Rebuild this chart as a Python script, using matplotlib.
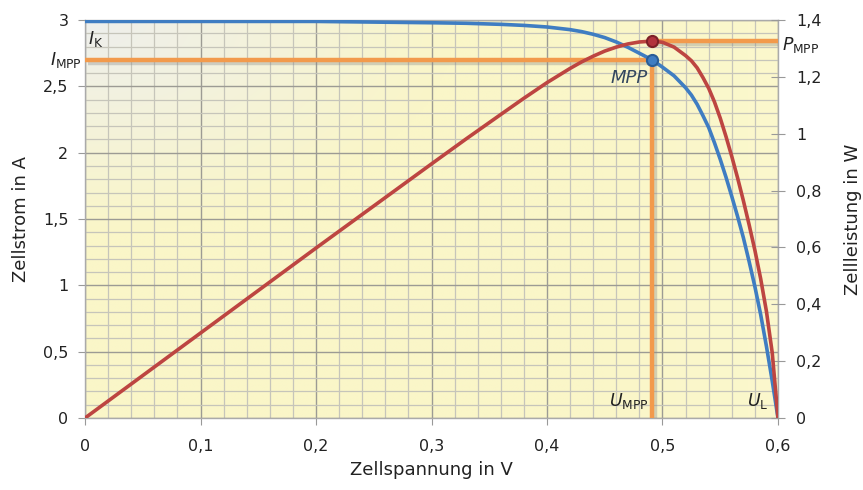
import numpy as np
import matplotlib
matplotlib.use("Agg")
import matplotlib.pyplot as plt
from matplotlib.ticker import MultipleLocator, FuncFormatter
import matplotlib.patheffects as pe

# Kennlinie einer Solarzelle: Spannung, Strom und Leistung
spannung = [0.0, 0.1, 0.2, 0.3, 0.33, 0.36, 0.38, 0.40, 0.42, 0.43, 0.44, 0.45,
            0.46, 0.47, 0.48, 0.491, 0.50, 0.51, 0.52, 0.525, 0.53, 0.535,
            0.54, 0.545, 0.55, 0.555, 0.56, 0.565, 0.57, 0.575, 0.58, 0.585,
            0.59, 0.595, 0.60]
strom = [2.99, 2.99, 2.99, 2.98, 2.976, 2.968, 2.96, 2.948, 2.928, 2.913,
         2.893, 2.868, 2.835, 2.795, 2.75, 2.70, 2.645, 2.58, 2.49, 2.435,
         2.365, 2.28, 2.19, 2.075, 1.95, 1.815, 1.67, 1.52, 1.36, 1.18, 0.99,
         0.78, 0.54, 0.28, 0.0]
leistung = [0.0, 0.299, 0.598, 0.894, 0.982, 1.068, 1.125, 1.18, 1.23, 1.253,
            1.273, 1.291, 1.305, 1.316, 1.323, 1.326, 1.322, 1.305, 1.275,
            1.257, 1.232, 1.198, 1.16, 1.112, 1.055, 0.99, 0.92, 0.845,
            0.765, 0.68, 0.59, 0.49, 0.375, 0.23, 0.0]

U_MPP = 0.491
I_MPP = 2.70
P_MPP = 1.326

x_ticks = [0, 0.1, 0.2, 0.3, 0.4, 0.5, 0.6]
i_ticks = [0, 0.5, 1, 1.5, 2, 2.5, 3]
p_ticks = [0, 0.2, 0.4, 0.6, 0.8, 1.0, 1.2, 1.4]

BLUE = "#3f7dc2"
RED = "#bd4541"
ORANGE = "#f29a4c"
GRID_MINOR = "#c6c5ba"
GRID_MAJOR = "#9c9b94"
TXT = "#222222"


def komma(v, pos=None):
    s = f"{v:g}"
    return s.replace(".", ",")


fig = plt.figure(figsize=(8.63, 4.90), dpi=100)
ax = fig.add_axes([0.0985, 0.1469, 0.8030, 0.8121])
ax.set_xlim(0, 0.6)
ax.set_ylim(0, 3)

# Hintergrundverlauf: oben links hellgrau, sonst blassgelb
nx, ny = 300, 200
gx, gy = np.meshgrid(np.linspace(0, 0.6, nx), np.linspace(3, 0, ny))
t = np.clip(np.sqrt((gx / 0.32) ** 2 + ((3 - gy) / 1.6) ** 2), 0, 1)
grey = np.array([238, 239, 237]) / 255
yellow = np.array([250, 246, 200]) / 255
bright = np.array([252, 249, 208]) / 255
tt = t[..., None]
img = grey * (1 - tt) + yellow * tt
r = np.clip((gx - 0.45) / 0.15, 0, 1)[..., None] * 0.6
img = img * (1 - r) + bright * r
ax.imshow(img, extent=[0, 0.6, 0, 3], aspect="auto", zorder=0,
          interpolation="bilinear")

# Raster
ax.xaxis.set_major_locator(MultipleLocator(0.1))
ax.xaxis.set_minor_locator(MultipleLocator(0.02))
ax.yaxis.set_major_locator(MultipleLocator(0.5))
ax.yaxis.set_minor_locator(MultipleLocator(0.1))
ax.grid(which="minor", color=GRID_MINOR, lw=0.9, zorder=1)
ax.grid(which="major", color=GRID_MAJOR, lw=1.0, zorder=1)
ax.set_axisbelow(True)
ax.tick_params(which="minor", length=0)
ax.tick_params(which="major", direction="out", length=5, color="#999999",
               labelsize=11.5, labelcolor=TXT, pad=7)
ax.tick_params(axis="x", which="major", pad=10)
ax.set_xticks(x_ticks)
ax.set_yticks(i_ticks)
ax.xaxis.set_major_formatter(FuncFormatter(komma))
ax.yaxis.set_major_formatter(FuncFormatter(komma))
for sp in ax.spines.values():
    sp.set_color("#aaaaaa")
    sp.set_linewidth(1.0)

shadow = [pe.SimpleLineShadow(offset=(2, -2), shadow_color="#888888",
                              alpha=0.35, rho=1.0), pe.Normal()]

# MPP-Hilfslinien (Strom)
ax.plot([0, U_MPP], [I_MPP, I_MPP], color=ORANGE, lw=3.2, zorder=3,
        solid_capstyle="butt", path_effects=shadow)
ax.plot([U_MPP, U_MPP], [0, I_MPP], color=ORANGE, lw=3.2, zorder=3,
        solid_capstyle="butt", path_effects=shadow)

# Strom-Kennlinie
ax.plot(spannung, strom, color=BLUE, lw=2.6, zorder=4,
        solid_capstyle="round", solid_joinstyle="round")
ax.plot([U_MPP], [I_MPP], "o", ms=8, mfc=BLUE, mec="#2a5d96", mew=1.5,
        zorder=6)

ax.set_xlabel("Zellspannung in V", fontsize=13, color=TXT, labelpad=5)
ax.set_ylabel("Zellstrom in A", fontsize=13, color=TXT, labelpad=9)

# Leistungsachse rechts
ax2 = ax.twinx()
ax2.set_ylim(0, 1.4)
ax2.set_yticks(p_ticks)
ax2.yaxis.set_major_formatter(FuncFormatter(komma))
ax2.tick_params(which="major", direction="inout", length=10, color="#999999",
                labelsize=11.5, labelcolor=TXT, pad=8)
ax2.tick_params(which="minor", length=0)
for sp in ax2.spines.values():
    sp.set_visible(False)

ax2.plot([U_MPP, 0.6], [P_MPP, P_MPP], color=ORANGE, lw=3.2, zorder=3,
         solid_capstyle="butt", path_effects=shadow)
ax2.plot(spannung, leistung, color=RED, lw=2.6, zorder=4,
         solid_capstyle="round", solid_joinstyle="round")
ax2.plot([U_MPP], [P_MPP], "o", ms=8, mfc="#b2333d", mec="#7c2027", mew=1.5,
         zorder=6)
ax2.set_ylabel("Zellleistung in W", fontsize=13, color=TXT, labelpad=16)

# Beschriftungen
ax.text(0.003, 2.86, r"$I_{\mathrm{K}}$", fontsize=12.5, color=TXT,
        ha="left", va="center", zorder=7)
ax.text(-0.0025, 2.70, r"$I_{\mathrm{MPP}}$", fontsize=12.5, color=TXT,
        ha="right", va="center", clip_on=False, zorder=7)
ax.text(0.4875, 2.56, "MPP", fontsize=13, style="italic", color="#33475f",
        ha="right", va="center", zorder=7)
ax.text(0.4875, 0.13, r"$U_{\mathrm{MPP}}$", fontsize=12.5, color=TXT,
        ha="right", va="center", zorder=7)
ax.text(0.5915, 0.13, r"$U_{\mathrm{L}}$", fontsize=12.5, color=TXT,
        ha="right", va="center", zorder=7)
ax2.text(0.6035, P_MPP - 0.012, r"$P_{\mathrm{MPP}}$", fontsize=12.5,
         color=TXT, ha="left", va="center", clip_on=False, zorder=7)

fig.savefig("out.png", dpi=100)
